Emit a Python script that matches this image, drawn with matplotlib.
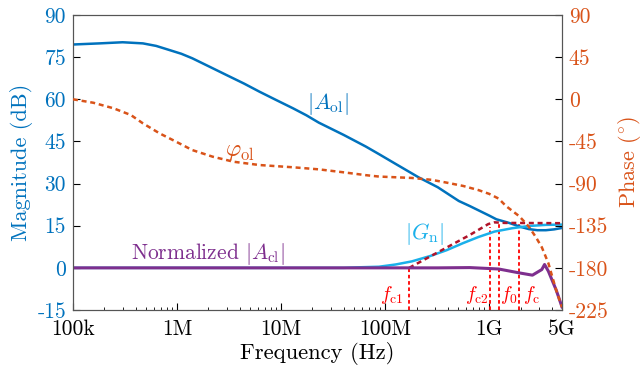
import matplotlib
matplotlib.use('Agg')
import matplotlib.pyplot as plt
from matplotlib.ticker import LogLocator, NullFormatter

plt.rcParams['font.family'] = 'serif'
plt.rcParams['font.serif'] = ['cmr10', 'DejaVu Serif']
plt.rcParams['mathtext.fontset'] = 'cm'
plt.rcParams['axes.formatter.use_mathtext'] = True

# open-loop magnitude |A_ol| (dB)
f_aol = [1.0e5, 1.8e5, 3.0e5, 4.7e5, 6.3e5, 8.5e5, 1.1e6, 1.4e6, 2.0e6, 3.0e6,
         4.4e6, 6.2e6, 8.9e6, 1.3e7, 1.75e7, 2.3e7, 4.0e7, 6.5e7, 8.7e7, 1.26e8,
         2.1e8, 3.2e8, 5.1e8, 6.5e8, 1.0e9, 1.17e9, 1.55e9, 2.0e9, 2.4e9, 2.9e9,
         3.5e9, 4.2e9, 5.0e9]
aol = [79.5, 79.9, 80.3, 79.9, 79.0, 77.5, 76.2, 74.6, 71.8, 68.6,
       65.6, 62.7, 59.8, 56.8, 54.3, 51.7, 47.3, 43.2, 40.5, 37.0,
       32.2, 28.7, 23.8, 22.0, 18.6, 17.3, 16.0, 14.6, 13.8, 13.4,
       13.4, 13.7, 14.2]

# open-loop phase (deg)
f_ph = [1.0e5, 1.57e5, 2.45e5, 3.6e5, 4.7e5, 6.8e5, 9.8e5, 1.4e6, 2.2e6, 3.5e6,
        6.2e6, 1.3e7, 2.3e7, 4.0e7, 6.5e7, 8.7e7, 1.8e8, 2.8e8, 3.9e8, 5.6e8,
        7.9e8, 1.0e9, 1.23e9, 1.45e9, 1.95e9, 2.4e9, 2.8e9, 3.2e9, 3.7e9, 4.4e9,
        5.0e9]
phase = [0, -3.7, -9.6, -16.8, -25.7, -36.4, -45.3, -54.2, -61.3, -66.7,
         -70.2, -72.6, -74.8, -78, -81, -82.5, -84, -86, -89, -92.5,
         -97, -101, -106, -114, -125, -136, -147, -158, -175, -204,
         -222]

# |G_n| (dB)
f_gn = [1.0e5, 4.0e7, 5.6e7, 8.7e7, 1.26e8, 1.8e8, 2.7e8, 3.9e8, 5.6e8, 7.9e8,
        1.12e9, 1.66e9, 2.4e9, 3.5e9, 5.0e9]
gn = [0, 0, 0.2, 0.4, 1.2, 2.3, 4.2, 6.3, 8.8, 11.0, 12.9, 14.1, 14.9, 15.3, 15.4]

# asymptote (dB)
f_asym = [1.7e8, 6.5e8, 9.8e8, 1.12e9, 1.4e9, 5.0e9]
asym = [0, 11.7, 15.6, 16.2, 16.0, 15.9]

# normalized closed-loop magnitude |A_cl| (dB)
f_acl = [1.0e5, 3.2e8, 6.5e8, 1.23e9, 1.95e9, 2.6e9, 3.2e9, 3.4e9, 3.7e9, 4.4e9, 5.0e9]
acl = [0, 0, 0.1, -0.4, -1.8, -2.6, -0.6, 1.2, -1.2, -7.9, -13.9]

# marker frequencies
f_mark = [1.7e8, 1.02e9, 1.23e9, 1.95e9]
mark_db = [0, 14.6, 16.3, 15.8]
mark_lbl = [r'$f_{\rm c1}$', r'$f_{\rm c2}$', r'$f_0$', r'$f_{\rm c}$']
lbl_x = [1.15e8, 7.6e8, 1.55e9, 2.55e9]

xticks = [1e5, 1e6, 1e7, 1e8, 1e9, 5e9]
xlabels = ['100k', '1M', '10M', '100M', '1G', '5G']
yl_ticks = [-15, 0, 15, 30, 45, 60, 75, 90]
yr_ticks = [-225, -180, -135, -90, -45, 0, 45, 90]

c_blue = '#0072BD'
c_orange = '#D95319'
c_purple = '#7E2F8E'
c_light = '#1AB0EA'
c_dred = '#B0142A'

fig = plt.figure(figsize=(6.43, 3.77), dpi=100)
ax = fig.add_axes([0.1135, 0.1777, 0.7605, 0.7825])
ax2 = ax.twinx()

ax.plot(f_aol, aol, color=c_blue, lw=1.8, zorder=3)
ax.plot(f_gn, gn, color=c_light, lw=1.8, zorder=3)
ax.plot(f_asym, asym, color=c_dred, lw=1.8, ls=(0, (2, 1.5)), zorder=3)
ax.plot(f_acl, acl, color=c_purple, lw=2.2, zorder=4)
for f, d in zip(f_mark, mark_db):
    ax.plot([f, f], [-15, d], color='red', lw=1.3, ls=(0, (2, 1.5)), zorder=2)
for x, s in zip(lbl_x, mark_lbl):
    ax.text(x, -9.5, s, color='red', fontsize=14, ha='center', va='center')

ax2.plot(f_ph, phase, color=c_orange, lw=1.8, ls=(0, (2, 1.5)), zorder=3)

ax.text(2.8e7, 58.5, r'$|A_{\rm ol}|$', color=c_blue, fontsize=16, ha='center', va='center')
ax.text(2.0e6, 5.0, r'Normalized $|A_{\rm cl}|$', color=c_purple, fontsize=15.5,
        ha='center', va='center')
ax.text(2.4e8, 12, r'$|G_{\rm n}|$', color=c_light, fontsize=16, ha='center', va='center')
ax2.text(4.0e6, -56, r'$\varphi_{\rm ol}$', color=c_orange, fontsize=17,
         ha='center', va='center')

ax.set_xscale('log')
ax.set_xlim(1e5, 5e9)
ax.set_ylim(-15, 90)
ax2.set_ylim(-225, 90)
ax.set_xticks(xticks)
ax.set_xticklabels(xlabels, fontsize=15.5)
ax.xaxis.set_minor_locator(LogLocator(base=10, subs=range(2, 10), numticks=20))
ax.xaxis.set_minor_formatter(NullFormatter())
ax.set_yticks(yl_ticks)
ax.set_yticklabels([str(v) for v in yl_ticks], fontsize=15.5, color=c_blue)
ax2.set_yticks(yr_ticks)
ax2.set_yticklabels([str(v) for v in yr_ticks], fontsize=15.5, color=c_orange)

ax.tick_params(which='both', direction='in', top=False, right=False)
ax.tick_params(axis='x', pad=7)
ax.tick_params(axis='y', pad=5)
ax.tick_params(which='major', length=5)
ax.tick_params(which='minor', length=2.5)
ax2.tick_params(direction='in', length=5, pad=5)

ax.set_xlabel('Frequency (Hz)', fontsize=16.3, labelpad=2)
ax.set_ylabel('Magnitude (dB)', fontsize=16, color=c_blue, labelpad=3)
ax2.set_ylabel(r'Phase $(^{\circ})$', fontsize=16, color=c_orange, labelpad=5)

for a in (ax, ax2):
    for sp in a.spines.values():
        sp.set_color('#555555')
        sp.set_linewidth(0.8)

fig.savefig('out.png', dpi=100)
